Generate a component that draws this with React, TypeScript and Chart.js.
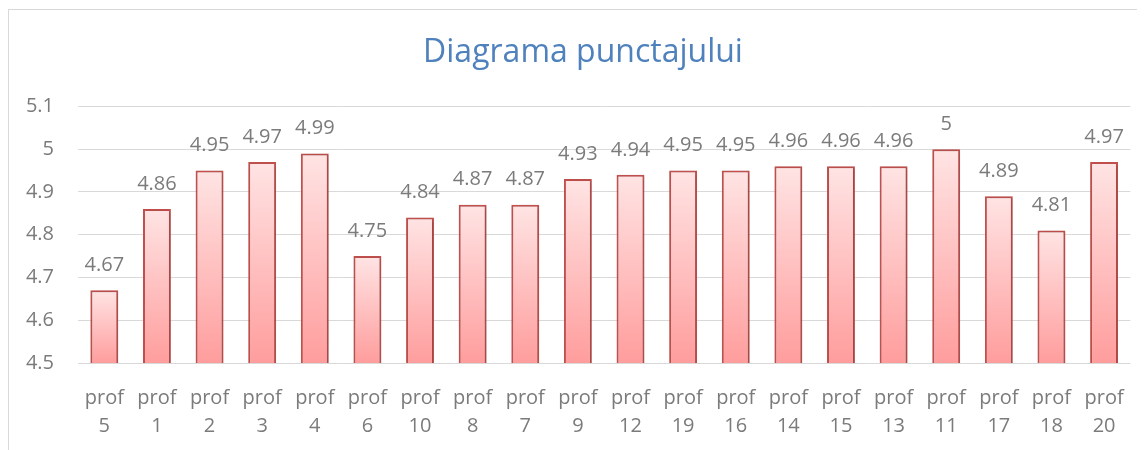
import React, { useEffect, useRef } from "react";
import { Chart, registerables } from "chart.js";

Chart.register(...registerables);

const categories: string[][] = [
  ["prof", "5"], ["prof", "1"], ["prof", "2"], ["prof", "3"], ["prof", "4"],
  ["prof", "6"], ["prof", "10"], ["prof", "8"], ["prof", "7"], ["prof", "9"],
  ["prof", "12"], ["prof", "19"], ["prof", "16"], ["prof", "14"], ["prof", "15"],
  ["prof", "13"], ["prof", "11"], ["prof", "17"], ["prof", "18"], ["prof", "20"],
];
const scores: number[] = [
  4.67, 4.86, 4.95, 4.97, 4.99, 4.75, 4.84, 4.87, 4.87, 4.93,
  4.94, 4.95, 4.95, 4.96, 4.96, 4.96, 5, 4.89, 4.81, 4.97,
];
const yTicks: number[] = [4.5, 4.6, 4.7, 4.8, 4.9, 5, 5.1];
const titleText = "Diagrama punctajului";

const FONT = "'Open Sans', 'Noto Sans', sans-serif";
const GRAY = "#7b7b7b";

const barShadow = {
  id: "barShadow",
  beforeDatasetDraw(chart: any) {
    const c = chart.ctx;
    c.save();
    c.shadowColor = "rgba(0,0,0,0.22)";
    c.shadowBlur = 3;
    c.shadowOffsetX = 1;
    c.shadowOffsetY = 1;
  },
  afterDatasetDraw(chart: any) {
    chart.ctx.restore();
  },
};

const titleShift = {
  id: "titleShift",
  afterLayout(chart: any) {
    const t = chart.titleBlock;
    if (t) {
      t.left += 13;
      t.right += 13;
    }
  },
};

const valueLabels = {
  id: "valueLabels",
  afterDatasetsDraw(chart: any) {
    const c = chart.ctx;
    const meta = chart.getDatasetMeta(0);
    c.save();
    c.font = `20px ${FONT}`;
    c.fillStyle = GRAY;
    c.textAlign = "center";
    c.textBaseline = "middle";
    meta.data.forEach((el: any, i: number) => {
      const v = chart.data.datasets[0].data[i];
      c.fillText(String(v), el.x, el.y - 25);
    });
    c.restore();
  },
};

export default function App() {
  const ref = useRef<HTMLCanvasElement | null>(null);
  useEffect(() => {
    if (!ref.current) return;
    const chart = new Chart(ref.current, {
      type: "bar",
      data: {
        labels: categories,
        datasets: [
          {
            data: scores,
            backgroundColor: (ctx: any) => {
              const ch = ctx.chart;
              if (!ch.chartArea || ctx.type !== "data") return "#ffc0c0";
              const ys = ch.scales.y;
              const top = ys.getPixelForValue(ctx.raw);
              const bot = ys.getPixelForValue(ys.min);
              if (!isFinite(top) || !isFinite(bot) || bot === top) return "#ffc0c0";
              const g = ch.ctx.createLinearGradient(0, top, 0, bot);
              g.addColorStop(0, "#ffe4e4");
              g.addColorStop(1, "#ff9d9d");
              return g;
            },
            borderColor: "#c0504d",
            borderWidth: 2,
            borderSkipped: false,
            categoryPercentage: 1,
            barPercentage: 0.53,
          },
        ],
      },
      options: {
        responsive: false,
        animation: false,
        layout: { padding: { left: 0, right: 14, top: 0, bottom: 0 } },
        plugins: {
          legend: { display: false },
          tooltip: { enabled: false },
          title: {
            display: true,
            text: titleText,
            color: "#4f81bd",
            font: { family: FONT, size: 32, weight: "normal", lineHeight: 1.2 },
            padding: { top: 24, bottom: 34 },
          },
        },
        scales: {
          x: {
            grid: { display: false, drawTicks: false },
            border: { display: false },
            ticks: {
              color: GRAY,
              font: { family: FONT, size: 20, lineHeight: 1.4 },
              padding: 21,
              maxRotation: 0,
              autoSkip: false,
            },
            afterFit: (s: any) => { s.height = 86; },
          },
          y: {
            min: 4.5,
            max: 5.1,
            afterBuildTicks: (s: any) => { s.ticks = yTicks.map((v) => ({ value: v })); },
            grid: { color: "#d9d9d9", lineWidth: 1, drawTicks: false },
            border: { display: false },
            ticks: {
              color: GRAY,
              font: { family: FONT, size: 20 },
              padding: 24,
              callback: (v: any) => String(Math.round(Number(v) * 10) / 10),
            },
            afterFit: (s: any) => { s.width = 69; },
          },
        },
      },
      plugins: [barShadow, valueLabels, titleShift],
    });
    return () => chart.destroy();
  }, []);
  return (
    <div
      style={{
        marginTop: 1,
        width: 1137,
        height: 450,
        borderTop: "1px solid #d9d9d9",
        borderLeft: "1px solid #d9d9d9",
        boxSizing: "border-box",
        background: "#fff",
      }}
    >
      <canvas ref={ref} width={1136} height={439} style={{ display: "block" }} />
    </div>
  );
}
